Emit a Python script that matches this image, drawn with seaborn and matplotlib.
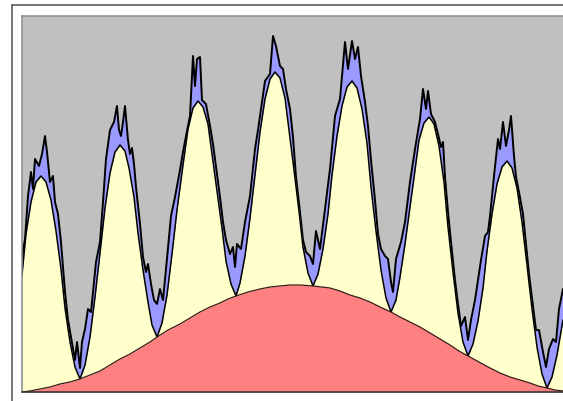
import matplotlib
matplotlib.use("Agg")
import matplotlib.pyplot as plt
from matplotlib.lines import Line2D
import seaborn as sns

# ---- data (sample position, cumulative height of each stacked layer) ----
red_x = [22, 30, 40, 50, 60, 70, 80, 90, 100, 110, 120, 130, 140, 150, 157, 168, 180,
         190, 200, 210, 220, 228, 236, 248, 260, 270, 280, 290, 300, 313, 322, 330,
         340, 350, 360, 370, 380, 391, 400, 410, 420, 430, 440, 450, 459, 468, 479,
         490, 500, 510, 520, 530, 538, 547, 555, 563]
red_h = [0, 1, 3, 5, 8, 10, 13, 17, 21, 27, 33, 38, 44, 50, 55, 62, 68,
         74, 80, 85, 89, 93, 96, 100, 103, 105, 106, 107, 107, 106, 105, 104,
         101, 97, 94, 90, 85, 80, 75, 70, 65, 59, 53, 47, 41, 36, 30,
         24, 19, 15, 12, 9, 6, 4, 2, 1]

yellow_x = [22, 26, 31, 36, 41, 46, 51, 56, 61, 65, 70, 75, 80, 85, 90, 95, 100, 105,
            110, 115, 120, 125, 129, 134, 138, 143, 148, 152, 157, 162, 167, 172, 177,
            183, 188, 193, 198, 203, 208, 212, 217, 222, 226, 231, 236, 240, 245, 250,
            255, 260, 265, 270, 275, 280, 285, 289, 294, 299, 303, 308, 313, 318, 323,
            328, 332, 337, 342, 347, 352, 357, 362, 367, 371, 376, 381, 386, 391, 396,
            400, 405, 410, 415, 419, 424, 429, 434, 439, 444, 448, 453, 458, 463, 468,
            473, 478, 483, 487, 492, 497, 502, 507, 512, 517, 522, 527, 532, 537, 542,
            547, 552, 557, 563]
yellow_h = [117, 158, 190, 210, 216, 210, 192, 161, 123, 84, 50, 25, 13, 27, 55, 95, 139, 184,
            219, 240, 247, 241, 224, 195, 159, 122, 90, 67, 55, 69, 97, 138, 182,
            227, 263, 284, 291, 285, 268, 238, 201, 164, 131, 108, 96, 109, 136, 174,
            217, 260, 293, 313, 320, 314, 294, 262, 222, 181, 145, 119, 106, 118, 143,
            178, 217, 256, 286, 305, 311, 304, 283, 249, 205, 161, 122, 94, 80, 92,
            115, 148, 185, 222, 252, 269, 275, 268, 246, 210, 165, 120, 79, 50, 36,
            48, 71, 104, 141, 178, 208, 225, 231, 224, 204, 170, 127, 83, 45, 18,
            4, 15, 37, 72]

blue_x = [22, 25, 28, 31, 33, 35, 39, 42, 45, 47, 50, 53, 55, 58, 61, 65, 68, 71, 73, 75,
          77, 80, 82, 85, 88, 91, 96, 100, 103, 106, 110, 114, 117, 119, 121, 123, 125,
          128, 130, 132, 134, 136, 140, 143, 146, 148, 151, 154, 157, 160, 163, 166, 171,
          175, 180, 183, 186, 190, 193, 195, 197, 200, 202, 206, 210, 213, 216, 220, 223,
          226, 230, 233, 235, 237, 241, 245, 250, 255, 258, 262, 265, 270, 273, 276, 280,
          283, 286, 290, 293, 296, 300, 303, 306, 310, 313, 316, 320, 325, 330, 335, 340,
          345, 348, 352, 355, 358, 361, 365, 368, 371, 375, 378, 381, 385, 388, 391, 393,
          396, 401, 405, 410, 415, 420, 423, 426, 428, 431, 435, 438, 441, 443, 445, 448,
          451, 455, 458, 461, 465, 468, 471, 475, 478, 481, 485, 488, 490, 494, 498, 500,
          503, 506, 509, 511, 514, 516, 519, 523, 526, 529, 533, 536, 539, 543, 546, 549,
          553, 556, 559, 563]
blue_h = [135, 153, 196, 220, 203, 233, 226, 238, 256, 240, 210, 216, 190, 178, 150, 100, 72, 55, 44, 32,
          50, 24, 50, 63, 83, 80, 130, 150, 190, 233, 262, 270, 286, 262, 256, 270, 286,
          252, 238, 244, 228, 205, 168, 135, 120, 128, 108, 92, 88, 103, 92, 123, 176,
          195, 222, 240, 256, 276, 336, 306, 333, 335, 292, 288, 266, 248, 225, 195, 170,
          152, 138, 145, 125, 148, 143, 170, 196, 243, 262, 290, 311, 318, 356, 346, 326,
          323, 303, 283, 255, 215, 180, 152, 140, 136, 128, 161, 143, 183, 223, 276, 293,
          350, 323, 351, 333, 345, 316, 290, 266, 232, 192, 158, 143, 136, 133, 110, 100,
          133, 150, 170, 210, 243, 273, 303, 283, 301, 278, 270, 258, 245, 250, 215, 180,
          150, 112, 88, 66, 75, 52, 72, 92, 112, 132, 156, 160, 176, 216, 253, 243,
          270, 246, 262, 276, 236, 215, 200, 178, 148, 118, 86, 62, 62, 40, 25, 43,
          53, 50, 83, 103]

# ---- figure ----
sns.set_theme(style="white")
W, H = 563, 402
fig = plt.figure(figsize=(W / 100, H / 100), dpi=100)
fig.patch.set_facecolor("white")

ax = fig.add_axes([22 / W, (H - 393) / H, (W - 22) / W, (393 - 17) / H])
ax.set_facecolor("#c0c0c0")

ax.fill_between(blue_x, 0, blue_h, color="#9999ff", lw=0, zorder=2)
sns.lineplot(x=blue_x, y=blue_h, ax=ax, color="black", lw=1.4, estimator=None, zorder=3)
ax.fill_between(yellow_x, 0, yellow_h, color="#ffffcc", lw=0, zorder=4)
sns.lineplot(x=yellow_x, y=yellow_h, ax=ax, color="black", lw=1.1, estimator=None, zorder=5)
ax.fill_between(red_x, 0, red_h, color="#ff8080", lw=0, zorder=6)
sns.lineplot(x=red_x, y=red_h, ax=ax, color="#3a1a1a", lw=0.9, estimator=None, zorder=7)

ax.set_xlim(22, 563)
ax.set_ylim(0, 376)
ax.set_xticks([])
ax.set_yticks([])
ax.set_xlabel("")
ax.set_ylabel("")
for s in ("top", "left"):
    ax.spines[s].set_color("#8c8c8c")
    ax.spines[s].set_linewidth(1.1)
ax.spines["bottom"].set_color("#303030")
ax.spines["bottom"].set_linewidth(1.1)
ax.spines["right"].set_visible(False)
for s in ax.spines.values():
    s.set_zorder(10)

# outer frame (left and top edges visible)
fig.add_artist(Line2D([11.5 / W, 11.5 / W], [0, 1 - 6 / H], transform=fig.transFigure,
                      color="#505050", lw=1.1))
fig.add_artist(Line2D([11.5 / W, 1], [1 - 6 / H, 1 - 6 / H], transform=fig.transFigure,
                      color="#505050", lw=1.1))

fig.savefig("out.png", dpi=100)
